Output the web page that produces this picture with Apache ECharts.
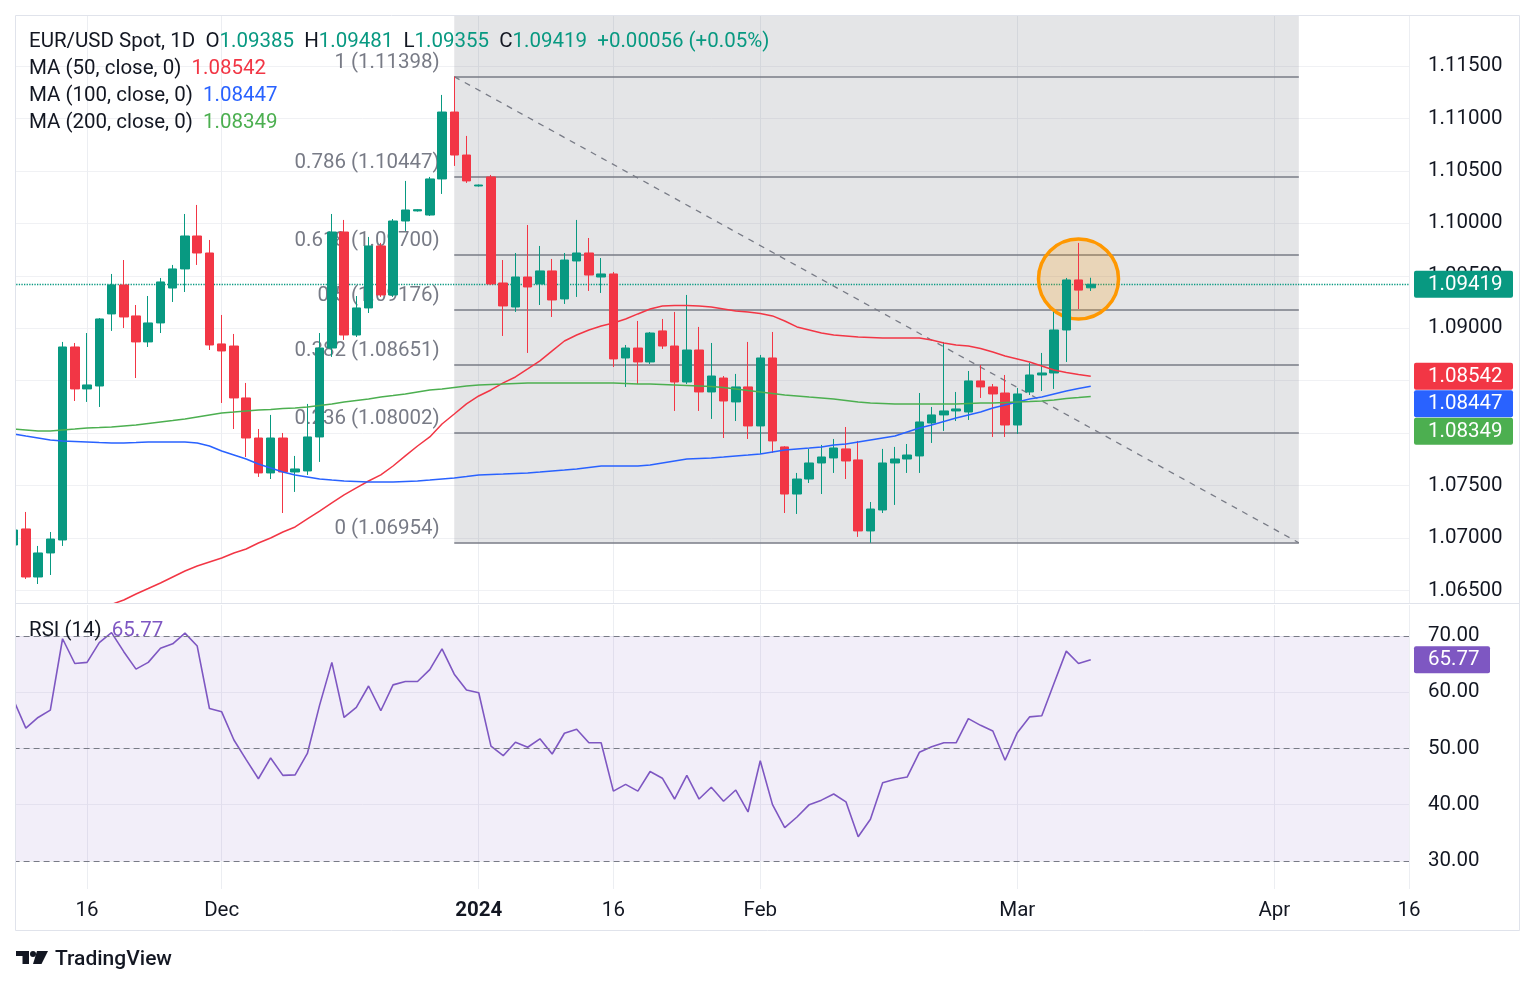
<!DOCTYPE html>
<html><head><meta charset="utf-8">
<script src="https://cdn.jsdelivr.net/npm/echarts/dist/echarts.min.js"></script>
<style>html,body{margin:0;padding:0;background:#fff;}#chart{width:1536px;height:987px;}</style>
</head><body><div id="chart"></div>
<script>
const FONT = 'Roboto, "Noto Sans", sans-serif';
const FS = 20.5;

// ---- categories (trading days) ----
const dayGroups = [
  ['2023-11', [8,9,10,13,14,15,16,17,20,21,22,23,24,27,28,29,30]],
  ['2023-12', [1,4,5,6,7,8,11,12,13,14,15,18,19,20,21,22,25,26,27,28,29]],
  ['2024-01', [1,2,3,4,5,8,9,10,11,12,15,16,17,18,19,22,23,24,25,26,29,30,31]],
  ['2024-02', [1,2,5,6,7,8,9,12,13,14,15,16,19,20,21,22,23,26,27,28,29]],
  ['2024-03', [1,4,5,6,7,8,11,12,13,14,15,18,19,20,21,22,25,26,27,28,29]],
  ['2024-04', [1,2,3,4,5,8,9,10,11,12,15,16]]
];
const dates = [];
dayGroups.forEach(([m, days]) => days.forEach(d => dates.push(m + '-' + String(d).padStart(2, '0'))));

const tickDates = ['2023-11-16','2023-12-01','2024-01-01','2024-01-16','2024-02-01','2024-03-01','2024-04-01','2024-04-16'];
const tickTexts = ['16','Dec','2024','16','Feb','Mar','Apr','16'];

// ---- OHLC ----
const opens = [1.06933,1.07086,1.06628,1.06857,1.06981,1.08821,1.08421,1.08449,1.09136,1.09412,
 1.09117,1.08869,1.09050,1.09383,1.09565,1.09879,1.09717,1.08850,1.08830,1.08335,
 1.07953,1.07620,1.07953,1.07629,1.07639,1.07963,1.08811,1.09917,1.08935,1.09193,
 1.09784,1.09317,1.10022,1.10118,1.10079,1.10423,1.11061,1.10651,1.10356,1.10442,
 1.09431,1.09202,1.09488,1.09422,1.09546,1.09279,1.09641,1.09717,1.09488,1.09517,
 1.08716,1.08811,1.08678,1.08974,1.08830,1.08487,1.08792,1.08392,1.08525,1.08297,
 1.08440,1.08068,1.08716,1.07868,1.07419,1.07562,1.07715,1.07763,1.07849,1.07744,
 1.07067,1.07267,1.07715,1.07753,1.07782,1.08096,1.08173,1.08211,1.08201,1.08497,
 1.08440,1.08382,1.08077,1.08392,1.08554,1.08573,1.08983,1.09460,1.09385];
const highs = [1.07124,1.07248,1.06924,1.07057,1.08869,1.08859,1.08954,1.09097,1.09517,1.09650,
 1.09221,1.09307,1.09479,1.09603,1.10089,1.10175,1.09841,1.09126,1.08945,1.08478,
 1.08039,1.08173,1.08001,1.07782,1.08278,1.08954,1.10089,1.10032,1.09307,1.09870,
 1.09813,1.10041,1.10404,1.10135,1.10442,1.11224,1.11398,1.10833,1.10370,1.10461,
 1.09650,1.09717,1.09984,1.09784,1.09660,1.09717,1.10032,1.09860,1.09669,1.09536,
 1.08840,1.09069,1.08964,1.09088,1.09155,1.09317,1.09012,1.08859,1.08544,1.08564,
 1.08869,1.08745,1.08964,1.07875,1.07620,1.07849,1.07887,1.07944,1.08058,1.07925,
 1.07343,1.07849,1.07868,1.07896,1.08382,1.08249,1.08869,1.08392,1.08592,1.08649,
 1.08468,1.08554,1.08430,1.08668,1.08764,1.09155,1.09479,1.09813,1.09481];
const lows = [1.06905,1.06609,1.06561,1.06647,1.06924,1.08306,1.08297,1.08249,1.08974,1.09002,
 1.08525,1.08821,1.08954,1.09250,1.09345,1.09603,1.08792,1.08287,1.08039,1.07772,
 1.07582,1.07562,1.07238,1.07439,1.07601,1.07725,1.08726,1.08888,1.08916,1.09145,
 1.09298,1.09298,1.09927,1.10112,1.10070,1.10280,1.10547,1.10385,1.10350,1.09412,
 1.08926,1.09155,1.08764,1.09221,1.09107,1.09231,1.09298,1.09355,1.09336,1.08630,
 1.08440,1.08468,1.08659,1.08802,1.08211,1.08468,1.08211,1.08135,1.07953,1.08115,
 1.07944,1.07801,1.07811,1.07238,1.07229,1.07524,1.07419,1.07620,1.07562,1.07010,
 1.06954,1.07238,1.07315,1.07620,1.07620,1.07906,1.08020,1.08115,1.08125,1.08335,
 1.07963,1.07963,1.07992,1.08363,1.08401,1.08421,1.08678,1.09183,1.09355];
const closes = [1.07076,1.06628,1.06857,1.06990,1.08821,1.08421,1.08459,1.09088,1.09412,1.09107,
 1.08869,1.09050,1.09441,1.09565,1.09879,1.09717,1.08840,1.08783,1.08335,1.07953,
 1.07620,1.07953,1.07629,1.07658,1.07963,1.08811,1.09917,1.08935,1.09193,1.09784,
 1.09317,1.10022,1.10127,1.10130,1.10423,1.11061,1.10651,1.10404,1.10365,1.09422,
 1.09212,1.09488,1.09393,1.09546,1.09269,1.09650,1.09717,1.09507,1.09517,1.08707,
 1.08811,1.08678,1.08954,1.08830,1.08487,1.08792,1.08392,1.08544,1.08306,1.08440,
 1.08068,1.08716,1.07925,1.07419,1.07562,1.07715,1.07772,1.07858,1.07734,1.07067,
 1.07276,1.07715,1.07753,1.07791,1.08106,1.08173,1.08211,1.08230,1.08497,1.08440,
 1.08373,1.08077,1.08373,1.08554,1.08573,1.08983,1.09460,1.09363,1.09419];

// ---- moving averages ----
const ma50 = [null,null,null,null,null,null,null,
 1.06314,1.06366,1.06409,
 1.06466,1.06518,1.06571,1.06628,1.06685,1.06733,1.06771,1.06809,1.06857,1.06895,
 1.06952,1.07000,1.07057,1.07105,1.07181,1.07257,1.07334,1.07410,1.07477,1.07543,
 1.07601,1.07686,1.07782,1.07877,1.07963,1.08087,1.08182,1.08278,1.08354,1.08411,
 1.08478,1.08535,1.08611,1.08688,1.08783,1.08878,1.08935,1.08983,1.09021,1.09050,
 1.09088,1.09136,1.09183,1.09212,1.09217,1.09217,1.09212,1.09202,1.09183,1.09164,
 1.09155,1.09140,1.09117,1.09069,1.09012,1.08983,1.08954,1.08935,1.08926,1.08916,
 1.08912,1.08907,1.08907,1.08907,1.08907,1.08888,1.08859,1.08840,1.08830,1.08807,
 1.08773,1.08735,1.08707,1.08678,1.08640,1.08602,1.08578,1.08559,1.08542];
const ma100 = [1.07992,1.07972,1.07953,1.07934,1.07925,1.07920,1.07915,1.07910,1.07906,1.07906,
 1.07910,1.07915,1.07915,1.07915,1.07915,1.07906,1.07877,1.07829,1.07791,1.07753,
 1.07705,1.07667,1.07629,1.07601,1.07582,1.07563,1.07553,1.07544,1.07539,1.07534,
 1.07534,1.07534,1.07539,1.07544,1.07553,1.07563,1.07572,1.07586,1.07601,1.07606,
 1.07610,1.07615,1.07620,1.07629,1.07639,1.07648,1.07658,1.07672,1.07686,1.07686,
 1.07686,1.07686,1.07696,1.07715,1.07734,1.07753,1.07758,1.07763,1.07772,1.07782,
 1.07791,1.07801,1.07820,1.07839,1.07849,1.07858,1.07868,1.07887,1.07896,1.07915,
 1.07934,1.07953,1.07972,1.08011,1.08049,1.08077,1.08111,1.08144,1.08173,1.08201,
 1.08239,1.08268,1.08297,1.08325,1.08344,1.08373,1.08401,1.08425,1.08447];
const ma200 = [1.08039,1.08030,1.08020,1.08020,1.08030,1.08039,1.08049,1.08053,1.08058,1.08068,
 1.08077,1.08092,1.08106,1.08120,1.08135,1.08154,1.08173,1.08192,1.08201,1.08211,
 1.08220,1.08225,1.08235,1.08239,1.08249,1.08263,1.08277,1.08297,1.08311,1.08325,
 1.08344,1.08358,1.08373,1.08392,1.08411,1.08421,1.08435,1.08449,1.08459,1.08464,
 1.08468,1.08473,1.08478,1.08478,1.08478,1.08478,1.08478,1.08478,1.08478,1.08478,
 1.08473,1.08468,1.08468,1.08464,1.08459,1.08454,1.08449,1.08444,1.08435,1.08421,
 1.08406,1.08392,1.08378,1.08363,1.08354,1.08344,1.08335,1.08325,1.08311,1.08297,
 1.08287,1.08282,1.08277,1.08277,1.08277,1.08277,1.08277,1.08277,1.08282,1.08287,
 1.08287,1.08292,1.08297,1.08301,1.08306,1.08316,1.08330,1.08339,1.08349];

// ---- RSI (14) ----
const rsi = [58.6,53.6,55.5,56.8,69.5,65.1,65.3,68.8,70.6,67.2,
 64.1,65.3,67.8,68.6,70.5,68.2,57.1,56.5,51.5,48.0,
 44.6,48.3,45.2,45.3,49.1,57.7,65.3,55.5,57.3,61.1,
 56.7,61.3,61.9,61.9,64.0,67.7,63.2,60.4,59.9,50.4,
 48.7,51.1,50.2,51.7,49.0,52.7,53.4,51.0,51.0,42.4,
 43.6,42.4,45.9,44.7,41.0,45.2,41.0,43.1,40.6,42.6,
 38.7,47.8,40.0,35.9,37.8,40.0,40.8,41.9,40.5,34.3,
 37.4,43.9,44.5,44.9,49.3,50.3,51.0,51.0,55.3,54.1,
 53.1,47.9,52.8,55.6,55.8,61.6,67.3,65.1,65.77];
const rsiLevels = [70, 50, 30];

// ---- Fibonacci retracement ----
const fibRatios = ['1','0.786','0.618','0.5','0.382','0.236','0'];
const fibPrices = [1.11398,1.10447,1.09700,1.09176,1.08651,1.08002,1.06954];
const fibStart = '2023-12-28';
const fibEnd = '2024-04-03';

// ---- highlight circle ----
const highlightDate = '2024-03-08';
const highlightPrice = 1.09469;

// ---- axis ranges ----
const priceMin = 1.06380, priceMax = 1.11986;
const rsiMin = 25, rsiMax = 75.5;

const UP = '#089981', DOWN = '#f23645';
const C50 = '#f23645', C100 = '#2962ff', C200 = '#4caf50', CRSI = '#7e57c2';
const TXT = '#131722', GRIDC = '#f0f1f4', FIBC = '#787b86';

const candleData = opens.map((o, i) => [o, closes[i], lows[i], highs[i]]);
const last = closes.length - 1;
const isTick = (idx, val) => tickDates.indexOf(val) >= 0;

const fibLines = fibPrices.map(p => [{coord: [fibStart, p]}, {coord: [fibEnd, p]}]);
fibLines.push([
  {coord: [fibStart, fibPrices[0]], lineStyle: {type: [6, 6], color: FIBC, width: 1.3}},
  {coord: [fibEnd, fibPrices[fibPrices.length - 1]], lineStyle: {type: [6, 6], color: FIBC, width: 1.3}}
]);
// current price dotted line
fibLines.push([
  {coord: [dates[0], closes[last]], lineStyle: {type: 'dotted', color: UP, width: 1.3}},
  {coord: [dates[dates.length - 1], closes[last]], lineStyle: {type: 'dotted', color: UP, width: 1.3}}
]);

const option = {
  animation: false,
  backgroundColor: '#ffffff',
  grid: [
    {left: 13.6, right: 127, top: 15, height: 588, outerBoundsMode: 'none'},
    {left: 13.6, right: 127, top: 605, height: 284, outerBoundsMode: 'none'}
  ],
  xAxis: [
    {type: 'category', gridIndex: 0, data: dates, boundaryGap: false,
     axisLine: {show: false}, axisTick: {show: false}, axisLabel: {show: false},
     splitLine: {show: true, interval: isTick, lineStyle: {color: '#eceef2', width: 1}}},
    {type: 'category', gridIndex: 1, data: dates, boundaryGap: false,
     axisLine: {show: false}, axisTick: {show: false},
     axisLabel: {show: true, interval: isTick, margin: 11, color: TXT, fontSize: FS, fontFamily: FONT,
       formatter: v => { const t = tickTexts[tickDates.indexOf(v)]; return t === '2024' ? '{b|2024}' : t; },
       rich: {b: {fontWeight: 'bold', fontSize: FS, fontFamily: FONT, color: TXT}}},
     splitLine: {show: true, interval: isTick, lineStyle: {color: '#eceef2', width: 1}}}
  ],
  yAxis: [
    {type: 'value', gridIndex: 0, position: 'right', min: priceMin, max: priceMax,
     minInterval: 0.005, maxInterval: 0.005,
     axisLine: {show: false}, axisTick: {show: false},
     splitLine: {show: true, showMinLine: false, showMaxLine: false, lineStyle: {color: GRIDC}},
     axisLabel: {showMinLabel: false, showMaxLabel: false, formatter: v => v.toFixed(5),
       color: TXT, fontSize: FS, fontFamily: FONT, margin: 19, padding: [4, 0, 0, 0]}},
    {type: 'value', gridIndex: 1, position: 'right', min: rsiMin, max: rsiMax,
     minInterval: 10, maxInterval: 10,
     axisLine: {show: false}, axisTick: {show: false},
     splitLine: {show: true, showMinLine: false, showMaxLine: false, lineStyle: {color: GRIDC}},
     axisLabel: {showMinLabel: false, showMaxLabel: false, formatter: v => v.toFixed(2),
       color: TXT, fontSize: FS, fontFamily: FONT, margin: 19, padding: [5, 0, 0, 0]}}
  ],
  series: [
    {name: 'fib', type: 'line', xAxisIndex: 0, yAxisIndex: 0, data: dates.map(() => null),
     showSymbol: false, silent: true, z: 1,
     markArea: {silent: true, z: 0.5, itemStyle: {color: 'rgba(120,123,134,0.2)'},
       data: [[{coord: [fibStart, priceMax]}, {coord: [fibEnd, fibPrices[fibPrices.length - 1]]}]]},
     markLine: {silent: true, z: 1, symbol: ['none', 'none'], label: {show: false},
       lineStyle: {color: FIBC, width: 1.5, type: 'solid'}, data: fibLines},
     markPoint: {silent: true, z: 1, data: fibPrices.map((p, i) => ({
         coord: [fibStart, p], symbol: 'rect', symbolSize: [1, 1],
         itemStyle: {color: 'rgba(0,0,0,0)'},
         label: {show: true, position: 'left', distance: 14, offset: [0, -14],
           formatter: fibRatios[i] + ' (' + p.toFixed(5) + ')',
           color: FIBC, fontSize: FS, fontFamily: FONT}
       })).concat([{
         coord: [highlightDate, highlightPrice], symbol: 'circle', symbolSize: 80,
         itemStyle: {color: 'rgba(255,152,0,0.2)', borderColor: '#ff9800', borderWidth: 3.5},
         label: {show: false}
       }])}
    },
    {name: 'EUR/USD', type: 'candlestick', xAxisIndex: 0, yAxisIndex: 0, data: candleData,
     barWidth: 9, z: 3,
     itemStyle: {color: UP, color0: DOWN, borderColor: UP, borderColor0: DOWN, borderWidth: 1}
    },
    {name: 'MA50', type: 'line', xAxisIndex: 0, yAxisIndex: 0, data: ma50, showSymbol: false,
     z: 4, lineStyle: {color: C50, width: 1.5}, silent: true},
    {name: 'MA100', type: 'line', xAxisIndex: 0, yAxisIndex: 0, data: ma100, showSymbol: false,
     z: 4, lineStyle: {color: C100, width: 1.5}, silent: true},
    {name: 'MA200', type: 'line', xAxisIndex: 0, yAxisIndex: 0, data: ma200, showSymbol: false,
     z: 4, lineStyle: {color: C200, width: 1.5}, silent: true},
    {name: 'RSI', type: 'line', xAxisIndex: 1, yAxisIndex: 1, data: rsi, showSymbol: false,
     z: 4, lineStyle: {color: CRSI, width: 1.6}, silent: true,
     markArea: {silent: true, itemStyle: {color: 'rgba(126,87,194,0.1)'},
       data: [[{yAxis: rsiLevels[2]}, {yAxis: rsiLevels[0]}]]},
     markLine: {silent: true, symbol: ['none', 'none'], label: {show: false},
       lineStyle: {type: [6, 4], color: FIBC, width: 1},
       data: rsiLevels.map(v => ({yAxis: v}))}
    }
  ]
};

const chart = echarts.init(document.getElementById('chart'), null, {renderer: 'canvas'});
chart.setOption(option);

function richText(parts) {
  const rich = {}; let s = '';
  parts.forEach((p, i) => {
    rich['p' + i] = {fill: p[1], color: p[1], fontSize: FS, fontFamily: FONT};
    s += '{p' + i + '|' + p[0] + '}';
  });
  return {text: s, rich: rich};
}
function textEl(x, y, parts) {
  const rt = richText(parts);
  return {type: 'text', x: x, y: y, z: 100, silent: true,
    style: {text: rt.text, rich: rt.rich, font: FS + 'px ' + FONT, fontSize: FS, fontFamily: FONT,
      textVerticalAlign: 'middle', verticalAlign: 'middle'}};
}
function tagEls(yc, text, color, w) {
  return [
    {type: 'rect', z: 100, silent: true, shape: {x: 1414, y: yc - 13.5, width: w, height: 27, r: 2}, style: {fill: color}},
    {type: 'text', z: 101, silent: true, x: 1428, y: yc + 0.5,
     style: {text: text, fill: '#ffffff', font: FS + 'px ' + FONT, fontSize: FS, fontFamily: FONT,
       textVerticalAlign: 'middle', verticalAlign: 'middle'}}
  ];
}

const chg = closes[last] - closes[last - 1];
const pct = chg / closes[last - 1] * 100;
const sign = chg >= 0 ? '+' : '-';

const g = [];
g.push({type: 'rect', z: 50, silent: true, shape: {x: 0, y: 0, width: 15, height: 987}, style: {fill: '#ffffff'}});
g.push({type: 'rect', z: 60, silent: true, shape: {x: 15.5, y: 15.5, width: 1504, height: 915}, style: {fill: 'none', stroke: '#e0e3eb', lineWidth: 1}});
g.push({type: 'line', z: 60, silent: true, shape: {x1: 15, y1: 603.5, x2: 1519, y2: 603.5}, style: {stroke: '#e0e3eb', lineWidth: 1}});

g.push(textEl(29, 42, [
  ['EUR/USD Spot, 1D  O', TXT], [opens[last].toFixed(5), UP],
  ['  H', TXT], [highs[last].toFixed(5), UP],
  ['  L', TXT], [lows[last].toFixed(5), UP],
  ['  C', TXT], [closes[last].toFixed(5), UP],
  ['  ' + sign + Math.abs(chg).toFixed(5) + ' (' + sign + Math.abs(pct).toFixed(2) + '%)', UP]
]));
g.push(textEl(29, 69, [['MA (50, close, 0)  ', TXT], [ma50[last].toFixed(5), C50]]));
g.push(textEl(29, 96, [['MA (100, close, 0)  ', TXT], [ma100[last].toFixed(5), C100]]));
g.push(textEl(29, 123, [['MA (200, close, 0)  ', TXT], [ma200[last].toFixed(5), C200]]));
g.push(textEl(29, 631, [['RSI (14)  ', TXT], [rsi[last].toFixed(2), CRSI]]));

// TradingView logo
g.push({type: 'rect', z: 100, silent: true, shape: {x: 16, y: 951, width: 13, height: 5}, style: {fill: TXT}});
g.push({type: 'rect', z: 100, silent: true, shape: {x: 22.5, y: 951, width: 6.5, height: 13}, style: {fill: TXT}});
g.push({type: 'circle', z: 100, silent: true, shape: {cx: 33, cy: 954, r: 3}, style: {fill: TXT}});
g.push({type: 'polygon', z: 100, silent: true, shape: {points: [[37, 951], [48, 951], [41.5, 964], [33, 964]]}, style: {fill: TXT}});
g.push({type: 'text', z: 100, silent: true, x: 55, y: 960,
  style: {text: 'TradingView', fill: TXT, font: '500 21px ' + FONT, fontSize: 21, fontWeight: 500, fontFamily: FONT,
    textVerticalAlign: 'middle', verticalAlign: 'middle'}});

// price tags (positions from the axis scales)
const py = v => chart.convertToPixel({yAxisIndex: 0}, v);
g.push(...tagEls(py(closes[last]), closes[last].toFixed(5), UP, 99));
const maTags = [[ma50[last], C50], [ma100[last], C100], [ma200[last], C200]];
let prevY = -1e9;
maTags.forEach(([v, c]) => {
  let y = py(v);
  if (y < prevY + 27.5) y = prevY + 27.5;
  prevY = y;
  g.push(...tagEls(y, v.toFixed(5), c, 99));
});
const ry = chart.convertToPixel({yAxisIndex: 1}, rsi[last]);
g.push(...tagEls(ry, rsi[last].toFixed(2), CRSI, 76));

chart.setOption({graphic: g});
</script>
</body></html>
